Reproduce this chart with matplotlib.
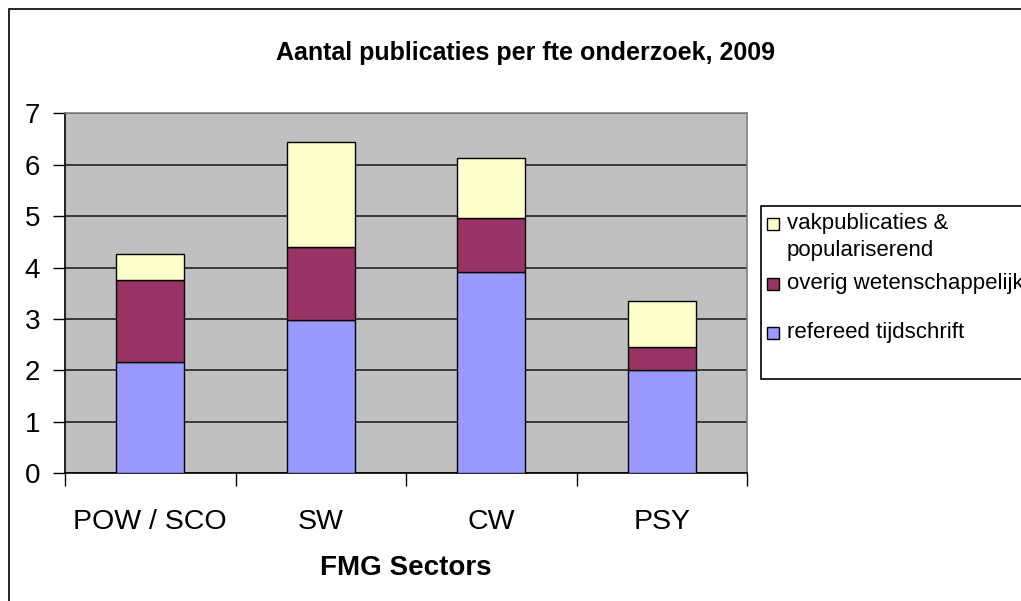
import matplotlib
matplotlib.use("Agg")
import matplotlib.pyplot as plt
from matplotlib.patches import Rectangle
import numpy as np

categories = ["POW / SCO", "SW", "CW", "PSY"]
refereed = [2.17, 2.98, 3.92, 2.01]
overig = [1.59, 1.43, 1.04, 0.44]
vakpub = [0.50, 2.04, 1.18, 0.90]
series_labels = ["refereed tijdschrift", "overig wetenschappelijk", "vakpublicaties &\npopulariserend"]
title = "Aantal publicaties per fte onderzoek, 2009"
xlabel = "FMG Sectors"
yticks = [0, 1, 2, 3, 4, 5, 6, 7]

c_blue = "#9999FF"
c_maroon = "#993366"
c_yellow = "#FFFFCC"

plt.rcParams['font.family'] = ['Liberation Sans', 'DejaVu Sans']

W, H = 1021, 601
fig = plt.figure(figsize=(W / 100, H / 100), dpi=100)

def fx(px):
    return px / W

def fy(py):
    return 1 - py / H

# chart border (extends beyond the canvas to the right and bottom)
fig.patches.append(Rectangle((fx(9), fy(640)), fx(1100), fy(9) - fy(640),
                             transform=fig.transFigure, fill=False,
                             edgecolor="black", linewidth=1.2, zorder=0))

left, right, top, bottom = 65, 747, 113.3, 473.3
ax = fig.add_axes([fx(left), fy(bottom), fx(right - left), (bottom - top) / H])
ax.set_facecolor("#C0C0C0")

x = np.arange(len(categories))
bw = 0.4
ax.bar(x, refereed, bw, color=c_blue, edgecolor="black", linewidth=1, zorder=3)
ax.bar(x, overig, bw, bottom=refereed, color=c_maroon, edgecolor="black", linewidth=1, zorder=3)
base3 = np.array(refereed) + np.array(overig)
ax.bar(x, vakpub, bw, bottom=base3, color=c_yellow, edgecolor="black", linewidth=1, zorder=3)

ax.set_xlim(-0.5, len(categories) - 0.5)
ax.set_ylim(0, 7)
ax.set_yticks(yticks)
ax.set_yticklabels([str(t) for t in yticks], fontsize=20)
ax.yaxis.grid(True, color="#222222", linewidth=1.2, zorder=1)
ax.set_axisbelow(True)

ax.set_xticks(np.arange(-0.5, len(categories)), minor=False)
ax.set_xticklabels([])
ax.set_xticks(x, minor=True)
ax.set_xticklabels(categories, minor=True, fontsize=20.5)
ax.tick_params(axis="x", which="minor", length=0, pad=26)
ax.tick_params(axis="x", which="major", length=9, width=1, direction="out")
ax.tick_params(axis="y", length=9, width=1, direction="out", pad=9)

for s in ["top", "right"]:
    ax.spines[s].set_color("#808080")
    ax.spines[s].set_linewidth(1.2)
ax.spines["left"].set_color("black")
ax.spines["bottom"].set_color("black")
ax.spines["left"].set_linewidth(1.2)
ax.spines["bottom"].set_linewidth(1.2)

ax.set_xlabel(xlabel, fontsize=20, fontweight="bold", labelpad=14)

fig.text(fx(525), fy(53), title, fontsize=18, fontweight="bold",
         ha="center", va="center")

# legend box
fig.patches.append(Rectangle((fx(761), fy(379)), fx(300), fy(206) - fy(379),
                             transform=fig.transFigure, fill=True, facecolor="white",
                             edgecolor="black", linewidth=1.2, zorder=1))
leg_items = [(c_yellow, series_labels[2], 218), (c_maroon, series_labels[1], 278),
             (c_blue, series_labels[0], 327)]
for col, lab, ytop in leg_items:
    fig.patches.append(Rectangle((fx(767), fy(ytop + 12)), fx(12), fy(ytop) - fy(ytop + 12),
                                 transform=fig.transFigure, facecolor=col,
                                 edgecolor="black", linewidth=1, zorder=2))
    fig.text(fx(787), fy(ytop - 5), lab, fontsize=16, ha="left", va="top",
             linespacing=1.35, zorder=3)

fig.savefig("out.png", dpi=100)
